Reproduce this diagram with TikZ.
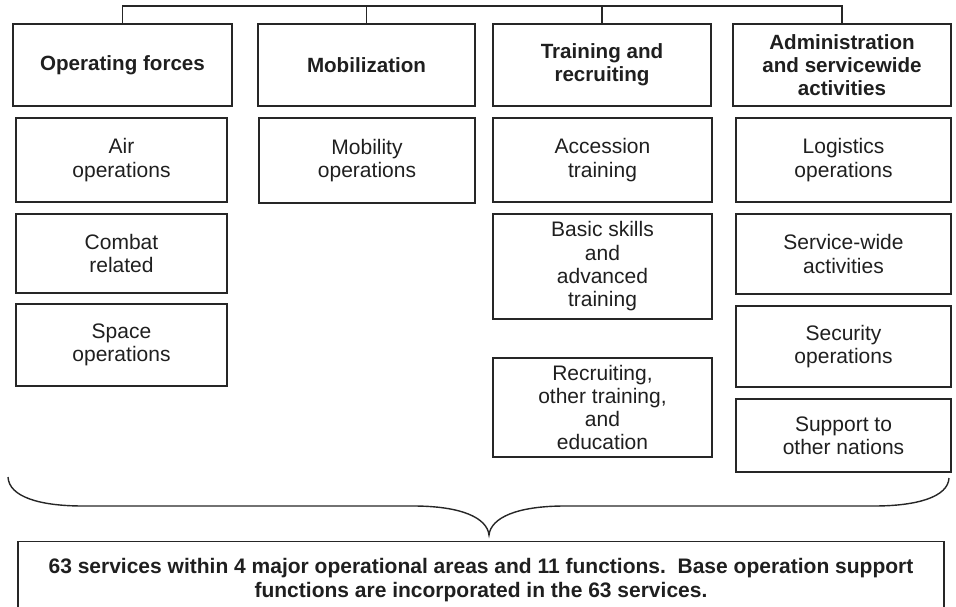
\documentclass[tikz,border=0pt]{standalone}
\usepackage{fontspec}
\setmainfont{Liberation Sans}

\begin{document}
\begin{tikzpicture}[x=1pt,y=-1pt,
	hdr/.style={draw=cline,line width=1.2pt,text=ctext,align=center,inner sep=0pt,
		font=\fontsize{20.6}{23.3}\selectfont\bfseries},
	leaf/.style={draw=cline,line width=1.1pt,text=ctext,align=center,inner sep=0pt,
		font=\fontsize{21}{23.3}\selectfont},
	note/.style={draw=cline,line width=1.2pt,text=ctext,align=center,inner xsep=0pt,inner ysep=17pt,
		font=\fontsize{21}{23.2}\selectfont\bfseries},
	bus/.style={draw=cline,line width=1.4pt},
	brace/.style={draw=cline,line width=1.4pt}]
				\definecolor{cline}{rgb}{0.15,0.15,0.15}
				\definecolor{ctext}{rgb}{0.12,0.12,0.12}
				\useasboundingbox (0,0) rectangle (956,607);
				%
				\node[hdr,minimum width=219pt,minimum height=82pt] (h1) at (122.5,65) {Operating forces};
				\node[hdr,minimum width=217pt,minimum height=82pt] (h2) at (366.5,65) {Mobilization};
				\node[hdr,minimum width=218pt,minimum height=82pt] (h3) at (602,65) {Training and\\recruiting};
				\node[hdr,minimum width=218pt,minimum height=82pt] (h4) at (842,65) {Administration\\and servicewide\\activities};
				%
				\coordinate (bus) at (0,6);
				\draw[bus] (h1.north) -- (h1.north |- bus) -- (h4.north |- bus) -- (h4.north);
				\foreach \h in {h2,h3}
					\draw[bus] (\h.north) -- (\h.north |- bus);
				%
				\node[leaf,minimum width=211pt,minimum height=84pt] (air) at (121.5,160) {Air\\operations};
				\node[leaf,minimum width=211pt,minimum height=79pt] (combat) at (121.5,253.5) {Combat\\related};
				\node[leaf,minimum width=211pt,minimum height=82pt] (space) at (121.5,345) {Space\\operations};
				\node[leaf,minimum width=216pt,minimum height=85pt] (mobility) at (367,160.5) {Mobility\\operations};
				\node[leaf,minimum width=219pt,minimum height=84pt] (accession) at (602.5,160) {Accession\\training};
				\node[leaf,minimum width=219pt,minimum height=105pt] (basic) at (602.5,266.5) {Basic skills\\and\\advanced\\training};
				\node[leaf,minimum width=219pt,minimum height=99pt] (recruit) at (602.5,407.5) {Recruiting,\\other training,\\and\\education};
				\node[leaf,minimum width=215pt,minimum height=84pt] (logistics) at (843.5,160) {Logistics\\operations};
				\node[leaf,minimum width=215pt,minimum height=80pt] (servwide) at (843.5,254) {Service-wide\\activities};
				\node[leaf,minimum width=215pt,minimum height=81pt] (security) at (843.5,346.5) {Security\\operations};
				\node[leaf,minimum width=215pt,minimum height=73pt] (support) at (843.5,435.5) {Support to\\other nations};
				%
				\draw[brace] (8,477) .. controls (9,497) and (40,506) .. (83,506) -- (413,506)
					.. controls (462,506) and (487,518) .. (489,535)
					.. controls (491,518) and (516,506) .. (565,506) -- (874,506)
					.. controls (917,506) and (948,497) .. (949,478);
				%
				\node[note,anchor=north,minimum width=926pt] (sum) at (481,541)
					{63 services within 4 major operational areas and 11 functions.\ \ Base operation support\\functions are incorporated in the 63 services.};
				%
\end{tikzpicture}
\end{document}
